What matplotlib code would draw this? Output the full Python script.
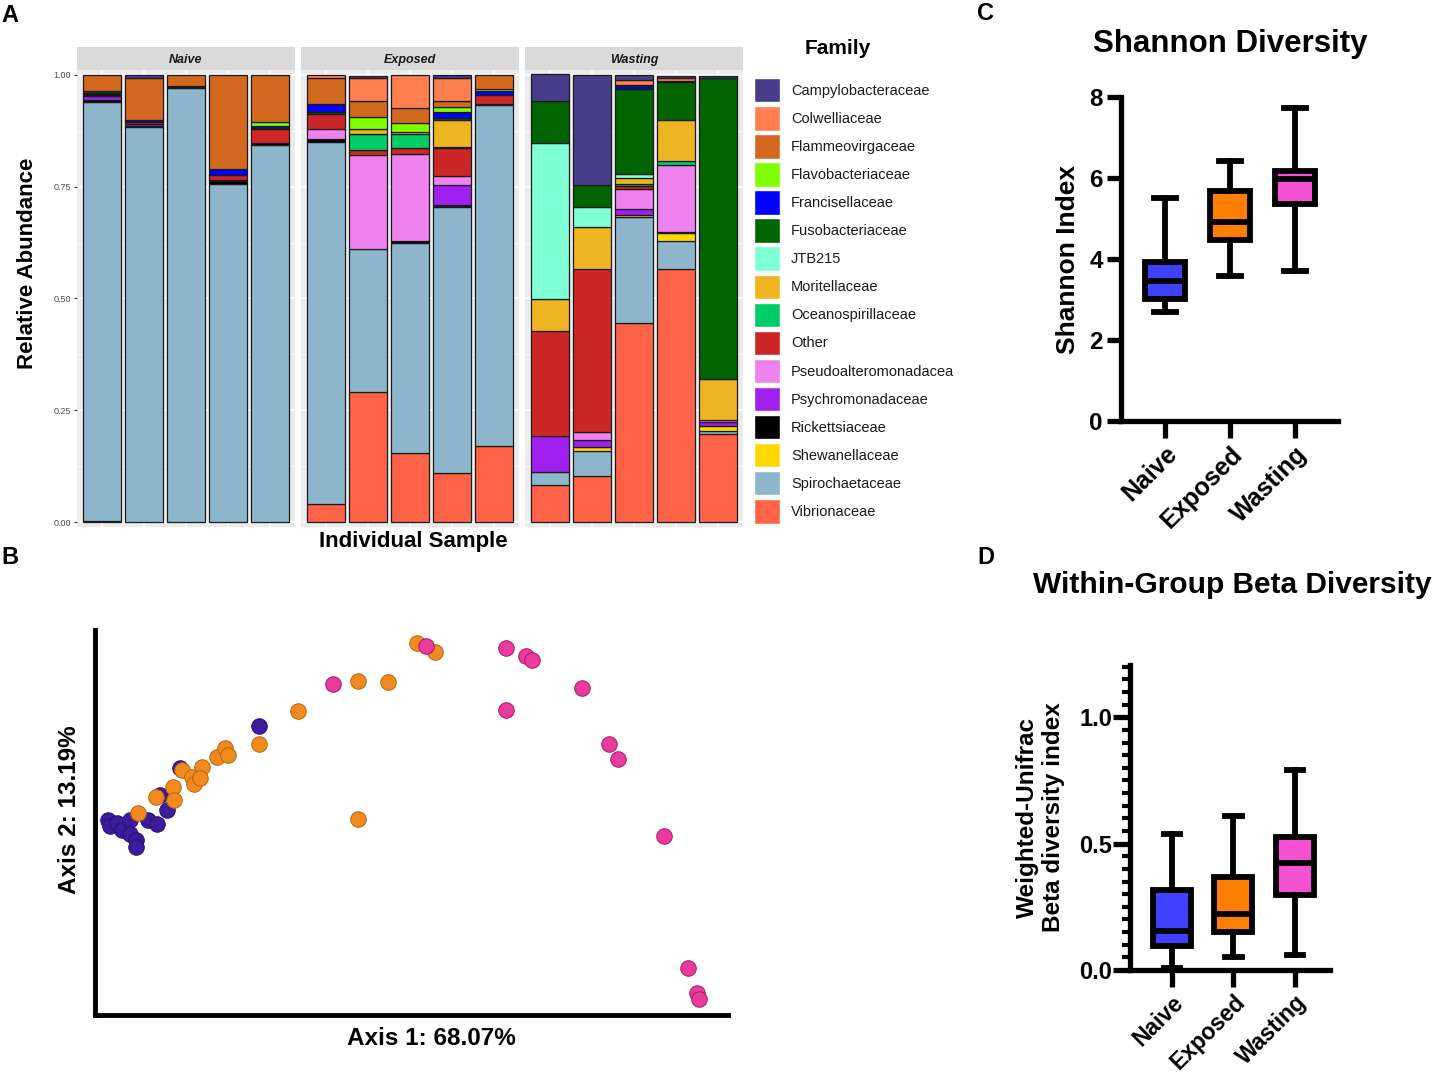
import numpy as np
import matplotlib.pyplot as plt
from matplotlib.patches import Patch
from matplotlib.ticker import MultipleLocator

plt.rcParams['font.family'] = ['Liberation Sans', 'DejaVu Sans']

W, H = 1434, 1073

# ---------------- data: panel A (relative abundance per sample) ----------------
groups = ["Naive", "Exposed", "Wasting"]
families = ["Campylobacteraceae", "Colwelliaceae", "Flammeovirgaceae", "Flavobacteriaceae",
            "Francisellaceae", "Fusobacteriaceae", "JTB215", "Moritellaceae",
            "Oceanospirillaceae", "Other", "Pseudoalteromonadacea", "Psychromonadaceae",
            "Rickettsiaceae", "Shewanellaceae", "Spirochaetaceae", "Vibrionaceae"]
family_colors = ["#483D8B", "#FF7F50", "#D2691E", "#7FFF00", "#0000FF", "#006400",
                 "#7FFFD4", "#EEB422", "#00CD66", "#CD2626", "#EE82EE", "#A020F0",
                 "#000000", "#FFD700", "#8DB5CC", "#FF6347"]

# 15 samples: Naive 1-5, Exposed 1-5, Wasting 1-5
campylobacteraceae = [0, 0.007, 0, 0, 0, 0, 0.004, 0, 0.007, 0, 0.060, 0.246, 0.012, 0.003, 0.004]
colwelliaceae = [0, 0, 0, 0, 0, 0.007, 0.052, 0.073, 0.051, 0, 0, 0, 0.010, 0.007, 0]
flammeovirgaceae = [0.037, 0.093, 0.024, 0.210, 0.105, 0.058, 0.035, 0.035, 0.013, 0.030, 0, 0, 0.003, 0, 0]
flavobacteriaceae = [0, 0, 0, 0, 0.009, 0, 0.029, 0.020, 0.012, 0.004, 0, 0, 0, 0.002, 0]
francisellaceae = [0, 0.005, 0, 0.013, 0.004, 0.019, 0, 0, 0.013, 0.009, 0, 0, 0.006, 0, 0]
fusobacteriaceae = [0.003, 0, 0, 0, 0.003, 0.003, 0, 0, 0.005, 0, 0.094, 0.049, 0.191, 0.086, 0.675]
jtb215 = [0, 0, 0, 0, 0, 0, 0, 0, 0, 0, 0.348, 0.046, 0.008, 0, 0]
moritellaceae = [0.003, 0, 0, 0, 0, 0, 0.010, 0.005, 0.060, 0, 0.072, 0.092, 0.014, 0.092, 0.091]
oceanospirillaceae = [0, 0, 0, 0, 0, 0, 0.035, 0.031, 0.003, 0, 0, 0, 0.004, 0.008, 0]
other = [0.002, 0.004, 0.003, 0.011, 0.031, 0.034, 0.011, 0.013, 0.062, 0.020, 0.234, 0.365, 0.008, 0, 0]
pseudoalteromonadacea = [0.003, 0, 0, 0, 0, 0.023, 0.212, 0.194, 0.021, 0, 0, 0.019, 0.043, 0.151, 0.004]
psychromonadaceae = [0.009, 0.005, 0.003, 0.004, 0, 0, 0, 0, 0.044, 0, 0.081, 0.016, 0.015, 0, 0.010]
rickettsiaceae = [0.003, 0.002, 0, 0.006, 0.005, 0.007, 0, 0.004, 0.002, 0.003, 0, 0, 0, 0.002, 0]
shewanellaceae = [0, 0, 0, 0, 0, 0, 0, 0, 0.003, 0, 0, 0.008, 0.003, 0.018, 0.011]
spirochaetaceae = [0.937, 0.883, 0.970, 0.756, 0.843, 0.808, 0.320, 0.470, 0.594, 0.763, 0.028, 0.055, 0.237, 0.063, 0.007]
vibrionaceae = [0.003, 0, 0, 0, 0, 0.041, 0.290, 0.155, 0.110, 0.170, 0.084, 0.104, 0.446, 0.565, 0.196]

abundance = [campylobacteraceae, colwelliaceae, flammeovirgaceae, flavobacteriaceae,
             francisellaceae, fusobacteriaceae, jtb215, moritellaceae, oceanospirillaceae,
             other, pseudoalteromonadacea, psychromonadaceae, rickettsiaceae,
             shewanellaceae, spirochaetaceae, vibrionaceae]

# ---------------- data: panel B (PCoA, weighted unifrac) ----------------
naive_x = [-0.284, -0.281, -0.272, -0.266, -0.256, -0.256, -0.248, -0.248, -0.233, -0.222, -0.209, -0.218, -0.193, -0.093]
naive_y = [0.003, -0.004, -0.001, -0.008, 0.003, -0.012, -0.018, -0.025, 0.003, -0.002, 0.013, 0.029, 0.057, 0.100]
exposed_x = [-0.246, -0.223, -0.201, -0.200, -0.190, -0.177, -0.175, -0.165, -0.167, -0.146, -0.136, -0.132,
             -0.093, -0.043, 0.032, 0.070, 0.107, 0.130, 0.032]
exposed_y = [0.010, 0.026, 0.037, 0.023, 0.055, 0.047, 0.040, 0.058, 0.046, 0.068, 0.077, 0.070,
             0.082, 0.116, 0.147, 0.146, 0.187, 0.177, 0.004]
wasting_x = [0.001, 0.118, 0.219, 0.245, 0.252, 0.316, 0.219, 0.350, 0.361, 0.419, 0.450, 0.461, 0.463]
wasting_y = [0.144, 0.183, 0.181, 0.173, 0.169, 0.140, 0.117, 0.082, 0.066, -0.014, -0.151, -0.177, -0.183]

# ---------------- data: panels C and D (box summaries) ----------------
box_groups = ["Naive", "Exposed", "Wasting"]
box_colors = ["#4040FF", "#FF8000", "#F651D5"]
# whislo, q1, median, q3, whishi
shannon_stats = [[2.69, 3.02, 3.45, 3.93, 5.51],
                 [3.57, 4.48, 4.91, 5.67, 6.42],
                 [3.70, 5.37, 5.97, 6.17, 7.73]]
beta_stats = [[0.007, 0.094, 0.153, 0.315, 0.54],
              [0.050, 0.151, 0.223, 0.370, 0.609],
              [0.059, 0.298, 0.425, 0.528, 0.793]]


def px_axes(fig, left, top, right, bottom, **kw):
    return fig.add_axes([left / W, 1 - bottom / H, (right - left) / W, (bottom - top) / H], **kw)


fig = plt.figure(figsize=(W / 100, H / 100), dpi=100)

# ---------------- Panel A ----------------
facet_left = [77, 301, 525]
for g, name in enumerate(groups):
    ax = px_axes(fig, facet_left[g], 70, facet_left[g] + 218, 527)
    ax.set_facecolor("#EBEBEB")
    xs = np.arange(5)
    bottom = np.zeros(5)
    for k in range(len(families) - 1, -1, -1):
        vals = np.array(abundance[k][g * 5:(g + 1) * 5])
        for i in range(5):
            if vals[i] > 0:
                ax.bar(xs[i], vals[i], bottom=bottom[i], width=0.9, color=family_colors[k],
                       edgecolor="#1A1A1A", linewidth=0.9, zorder=3)
        bottom += vals
    ax.set_xlim(-0.6, 4.6)
    ax.set_ylim(-0.011, 1.011)
    ax.set_yticks([0, 0.25, 0.5, 0.75, 1.0])
    ax.yaxis.set_minor_locator(MultipleLocator(0.125))
    ax.set_xticks(xs)
    ax.grid(which="major", color="white", lw=1.1, zorder=0)
    ax.grid(which="minor", axis="y", color="white", lw=0.5, zorder=0)
    ax.set_axisbelow(True)
    for s in ax.spines.values():
        s.set_visible(False)
    ax.tick_params(axis="x", length=0, labelbottom=False)
    ax.tick_params(axis="y", which="minor", length=0)
    if g == 0:
        ax.set_yticklabels(["0.00", "0.25", "0.50", "0.75", "1.00"])
        ax.tick_params(axis="y", which="major", length=2.5, color="#333333",
                       labelsize=6.5, labelcolor="#4D4D4D", pad=2)
    else:
        ax.tick_params(axis="y", which="major", length=0, labelleft=False)
    strip = px_axes(fig, facet_left[g], 47, facet_left[g] + 218, 70)
    strip.set_facecolor("#D9D9D9")
    strip.set_xticks([])
    strip.set_yticks([])
    for s in strip.spines.values():
        s.set_visible(False)
    strip.text(0.5, 0.45, name, ha="center", va="center", fontsize=9,
               style="italic", fontweight="bold", color="#1A1A1A", transform=strip.transAxes)

fig.text(28 / W, 1 - 263 / H, "Relative Abundance", rotation=90, ha="center", va="center",
         fontsize=16, fontweight="bold")
fig.text(413 / W, 1 - 541 / H, "Individual Sample", ha="center", va="center",
         fontsize=16, fontweight="bold")

fig.text(838 / W, 1 - 48 / H, "Family", ha="center", va="center", fontsize=15, fontweight="bold")
handles = [Patch(facecolor=c, edgecolor="white", linewidth=1) for c in family_colors]
fig.legend(handles, families, loc="upper left", bbox_to_anchor=(754 / W, 1 - 78 / H),
           frameon=False, fontsize=10.5, handlelength=1.75, handleheight=2.2,
           labelspacing=0.25, handletextpad=0.8, borderpad=0, borderaxespad=0,
           labelcolor="#1A1A1A")

# ---------------- Panel B ----------------
axb = px_axes(fig, 95, 630, 728, 1015)
axb.scatter(naive_x, naive_y, s=125, color="#3C1B9C", edgecolor="#2A1070", linewidth=0.7, zorder=3)
axb.scatter(exposed_x, exposed_y, s=125, color="#F28A1E", edgecolor="#B8640F", linewidth=0.7, zorder=4)
axb.scatter(wasting_x, wasting_y, s=125, color="#EA3A9C", edgecolor="#A01E68", linewidth=0.7, zorder=5)
axb.set_xlim(-0.30, 0.50)
axb.set_ylim(-0.20, 0.20)
axb.set_xticks([])
axb.set_yticks([])
axb.spines["top"].set_visible(False)
axb.spines["right"].set_visible(False)
axb.spines["left"].set_linewidth(3.5)
axb.spines["bottom"].set_linewidth(3.5)
axb.set_xlabel("Axis 1: 68.07%", fontsize=17.5, fontweight="bold")
axb.xaxis.set_label_coords((431 - 95) / 633, -(1027 - 1015) / 385)
axb.set_ylabel("Axis 2: 13.19%", fontsize=17.5, fontweight="bold")
axb.yaxis.set_label_coords(-(95 - 81) / 633, (1015 - 810) / 385)


# ---------------- Panels C and D ----------------
def box_panel(ax, stats_list, widths, capw, label_size):
    stats = []
    for lab, st in zip(box_groups, stats_list):
        stats.append(dict(label=lab, whislo=st[0], q1=st[1], med=st[2], q3=st[3], whishi=st[4], fliers=[]))
    bp = ax.bxp(stats, positions=[1, 2, 3], widths=widths, capwidths=capw, patch_artist=True,
                showfliers=False,
                boxprops=dict(linewidth=4.2, edgecolor="black"),
                whiskerprops=dict(linewidth=4.2, color="black"),
                capprops=dict(linewidth=4.2, color="black"),
                medianprops=dict(linewidth=4.2, color="black"))
    for patch, c in zip(bp["boxes"], box_colors):
        patch.set_facecolor(c)
    ax.spines["top"].set_visible(False)
    ax.spines["right"].set_visible(False)
    ax.spines["left"].set_linewidth(3.8)
    ax.spines["bottom"].set_linewidth(3.8)
    ax.tick_params(axis="x", length=12, width=3.8, pad=3)
    ax.set_xticklabels(box_groups, rotation=45, ha="right", rotation_mode="anchor",
                       fontsize=label_size, fontweight="bold")


axc = px_axes(fig, 1121, 97, 1338, 421)
box_panel(axc, shannon_stats, 0.62, 0.33, 18)
axc.set_xlim(0.32, 3.66)
axc.set_ylim(0, 8)
axc.set_yticks([0, 2, 4, 6, 8])
axc.set_yticklabels(["0", "2", "4", "6", "8"], fontsize=17.5, fontweight="bold")
axc.tick_params(axis="y", length=10, width=3.8, pad=3)
axc.set_ylabel("Shannon Index", fontsize=19, fontweight="bold", labelpad=7)
fig.text(1230 / W, 1 - 44 / H, "Shannon Diversity", ha="center", va="center",
         fontsize=22.5, fontweight="bold")

axd = px_axes(fig, 1130, 665, 1330, 970)
box_panel(axd, beta_stats, 0.62, 0.27, 16.5)
axd.set_xlim(0.32, 3.57)
axd.set_ylim(0, 1.207)
axd.set_yticks([0, 0.5, 1.0])
axd.set_yticklabels(["0.0", "0.5", "1.0"], fontsize=17, fontweight="bold")
axd.yaxis.set_minor_locator(MultipleLocator(0.05))
axd.tick_params(axis="y", which="major", length=12, width=3.8, pad=1)
axd.tick_params(axis="y", which="minor", length=6, width=3)
axd.set_ylabel("Weighted-Unifrac\nBeta diversity index", fontsize=17.5, fontweight="bold",
               linespacing=1.2, labelpad=10)
fig.text(1232 / W, 1 - 585 / H, "Within-Group Beta Diversity", ha="center", va="center",
         fontsize=21.5, fontweight="bold")

# ---------------- panel letters ----------------
for letter, (x, y) in zip("ABCD", [(10, 15), (10, 558), (986, 14), (986, 558)]):
    fig.text(x / W, 1 - y / H, letter, ha="center", va="center", fontsize=17, fontweight="bold")

fig.savefig("out.png", dpi=100)
